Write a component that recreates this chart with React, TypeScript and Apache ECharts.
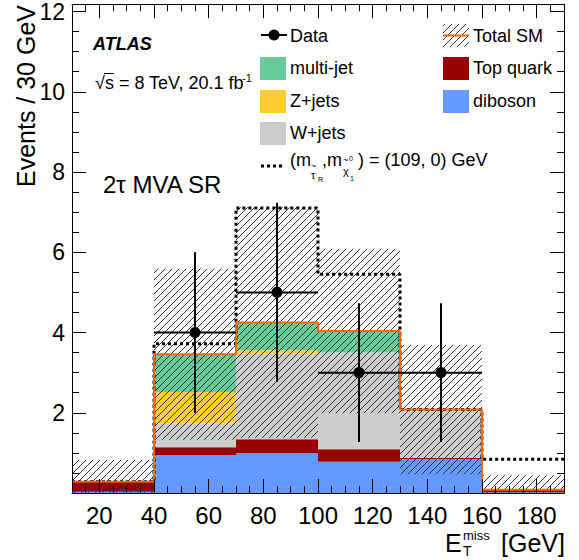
import React, { useEffect, useRef } from 'react';
import * as echarts from 'echarts';

// ---- data ----
const binLow = [10, 40, 70, 100, 130, 160];
const binWidth = 30;
const diboson = [0.03, 0.945, 0.99, 0.78, 0.85, 0.02];
const topQuark = [0.25, 0.195, 0.35, 0.31, 0.03, 0.06];
const wJets = [0, 0.59, 2.13, 2.41, 1.2, 0];
const zJets = [0, 0.79, 0.09, 0, 0, 0];
const multiJet = [0, 0.94, 0.69, 0.54, 0, 0];
const sysUnc = [0.54, 2.13, 2.87, 2.05, 1.61, 0.36];
const signal = [0.28, 3.72, 7.1, 5.45, 2.08, 0.84];
const dataX = [55, 85, 115, 145];
const dataY = [4, 5, 3, 3];
const dataErr = [2, 2.236, 1.732, 1.732];

const xLabelValues = [20, 40, 60, 80, 100, 120, 140, 160, 180];
const xMinorValues = Array.from({ length: 37 }, (_, i) => 10 + i * 5);
const yLabelValues = [2, 4, 6, 8, 10, 12];
const yMajorValues = [0, 2, 4, 6, 8, 10, 12];
const yMinorValues = Array.from({ length: 25 }, (_, i) => i * 0.5);

const FONT = "'Liberation Sans', Arial, Helvetica, sans-serif";

const samples = [
  { name: 'diboson', values: diboson, color: '#6699FF' },
  { name: 'Top quark', values: topQuark, color: '#990000' },
  { name: 'W+jets', values: wJets, color: '#CCCCCC' },
  { name: 'Z+jets', values: zJets, color: '#FFCC33' },
  { name: 'multi-jet', values: multiJet, color: '#66CC99' },
];

function txt(x: number, y: number, text: string, size: number, extra: any = {}) {
  return {
    type: 'text',
    x,
    y,
    z: 100,
    style: {
      text,
      fontSize: size,
      fontFamily: FONT,
      fill: '#000',
      align: extra.align || 'left',
      textAlign: extra.align || 'left',
      verticalAlign: 'middle',
      textVerticalAlign: 'middle',
      fontWeight: extra.fontWeight || 'normal',
      fontStyle: extra.fontStyle || 'normal',
    },
    ...(extra.rotation ? { rotation: extra.rotation } : {}),
  };
}

export default function App() {
  const ref = useRef<HTMLDivElement>(null);

  useEffect(() => {
    if (!ref.current) return;
    const chart = echarts.init(ref.current, undefined, { renderer: 'svg' });

    // hatch pattern
    const cv = document.createElement('canvas');
    cv.width = 7;
    cv.height = 7;
    const ctx = cv.getContext('2d')!;
    ctx.strokeStyle = '#333';
    ctx.lineWidth = 1;
    for (const k of [-7, 0, 7]) {
      ctx.beginPath();
      ctx.moveTo(k - 1, 8);
      ctx.lineTo(k + 8, -1);
      ctx.stroke();
    }
    const hatch: any = { image: cv, repeat: 'repeat', imageWidth: 7, imageHeight: 7 };

    // stacked totals
    const cum = binLow.map(() => 0);
    const stackSeries: any[] = samples.map((s, si) => {
      const rows = binLow.map((lo, i) => {
        const base = cum[i];
        cum[i] += s.values[i];
        return [lo, lo + binWidth, base, cum[i]];
      });
      return {
        type: 'custom',
        name: s.name,
        z: 2 + si * 0.01,
        data: rows,
        renderItem: (params: any, api: any) => {
          const lo = api.value(0), hi = api.value(1), b = api.value(2), t = api.value(3);
          if (t - b <= 0) return null;
          const p1 = api.coord([lo, t]);
          const p2 = api.coord([hi, b]);
          return {
            type: 'rect',
            shape: { x: p1[0], y: p1[1], width: p2[0] - p1[0], height: p2[1] - p1[1] },
            style: { fill: s.color },
          };
        },
      };
    });
    const total = cum.slice();

    const bandRows = binLow.map((lo, i) => [lo, lo + binWidth, Math.max(0, total[i] - sysUnc[i]), total[i] + sysUnc[i]]);
    const stepData = (vals: number[]) => {
      const d = binLow.map((lo, i) => [lo, vals[i]]);
      d.push([binLow[binLow.length - 1] + binWidth, vals[vals.length - 1]]);
      return d;
    };

    const axisCommon = {
      type: 'value',
      splitLine: { show: false },
      z: 10,
    };

    const xAx = (pos: string, showLine: boolean, ticks: number[], len: number, labels: boolean) => ({
      ...axisCommon,
      min: 10,
      max: 190,
      position: pos,
      axisLine: { show: showLine, onZero: false, lineStyle: { color: '#000', width: 1 } },
      axisTick: { show: true, inside: true, length: len, customValues: ticks, lineStyle: { color: '#000', width: 1 } },
      axisLabel: labels
        ? { show: true, customValues: xLabelValues, fontSize: 24, color: '#000', margin: 10, fontFamily: FONT }
        : { show: false },
    });
    const yAx = (pos: string, showLine: boolean, ticks: number[], len: number, labels: boolean) => ({
      ...axisCommon,
      min: 0,
      max: 12.18,
      position: pos,
      axisLine: { show: showLine, onZero: false, lineStyle: { color: '#000', width: 1 } },
      axisTick: { show: true, inside: true, length: len, customValues: ticks, lineStyle: { color: '#000', width: 1 } },
      axisLabel: labels
        ? { show: true, customValues: yLabelValues, fontSize: 23, color: '#000', margin: 7, fontFamily: FONT }
        : { show: false },
    });

    const option: any = {
      animation: false,
      backgroundColor: '#ffffff',
      grid: { left: 72, right: 15, top: 3, bottom: 67, containLabel: false },
      xAxis: [
        xAx('bottom', true, xLabelValues, 14, true),
        xAx('bottom', false, xMinorValues, 7, false),
        xAx('top', true, xLabelValues, 14, false),
        xAx('top', false, xMinorValues, 7, false),
      ],
      yAxis: [
        yAx('left', true, yMajorValues, 14, true),
        yAx('left', false, yMinorValues, 7, false),
        yAx('right', true, yMajorValues, 14, false),
        yAx('right', false, yMinorValues, 7, false),
      ],
      series: [
        ...stackSeries,
        {
          type: 'custom',
          name: 'Total SM uncertainty',
          z: 3,
          data: bandRows,
          renderItem: (params: any, api: any) => {
            const lo = api.value(0), hi = api.value(1), b = api.value(2), t = api.value(3);
            const p1 = api.coord([lo, t]);
            const p2 = api.coord([hi, b]);
            return {
              type: 'rect',
              shape: { x: p1[0], y: p1[1], width: p2[0] - p1[0], height: p2[1] - p1[1] },
              style: { fill: hatch },
            };
          },
        },
        {
          type: 'line',
          name: 'signal',
          z: 4,
          step: 'end',
          showSymbol: false,
          symbol: 'none',
          data: stepData(signal),
          lineStyle: { color: '#000', width: 3, type: [3, 3] },
        },
        {
          type: 'line',
          name: 'Total SM',
          z: 5,
          step: 'end',
          showSymbol: false,
          symbol: 'none',
          data: stepData(total),
          lineStyle: { color: '#FF6600', width: 2 },
        },
        {
          type: 'custom',
          name: 'Data',
          z: 6,
          data: dataX.map((x, i) => [x, dataY[i], dataErr[i]]),
          renderItem: (params: any, api: any) => {
            const x = api.value(0), y = api.value(1), e = api.value(2);
            const c = api.coord([x, y]);
            const l = api.coord([x - binWidth / 2, y]);
            const r = api.coord([x + binWidth / 2, y]);
            const t = api.coord([x, y + e]);
            const b = api.coord([x, y - e]);
            return {
              type: 'group',
              children: [
                { type: 'line', shape: { x1: l[0], y1: l[1], x2: r[0], y2: r[1] }, style: { stroke: '#000', lineWidth: 2 } },
                { type: 'line', shape: { x1: t[0], y1: t[1], x2: b[0], y2: b[1] }, style: { stroke: '#000', lineWidth: 2 } },
                { type: 'circle', shape: { cx: c[0], cy: c[1], r: 5.5 }, style: { fill: '#000' } },
              ],
            };
          },
        },
      ],
      graphic: {
        elements: [
          // y axis title
          txt(26, 5, 'Events / 30 GeV', 25, { align: 'right', rotation: Math.PI / 2 }),
          // x axis title
          txt(445, 543, 'E', 25),
          txt(463, 535, 'miss', 13),
          txt(463, 551, 'T', 14),
          txt(565, 543, '[GeV]', 25, { align: 'right' }),
          // ATLAS labels
          txt(93, 44, 'ATLAS', 18, { fontWeight: 'bold', fontStyle: 'italic' }),
          txt(95, 83, '√s = 8 TeV, 20.1 fb', 18),
          { type: 'line', z: 100, shape: { x1: 104, y1: 73.5, x2: 114, y2: 73.5 }, style: { stroke: '#000', lineWidth: 1 } },
          txt(242, 78, '-1', 11),
          txt(103, 184, '2τ MVA SR', 24),
          // legend: Data
          { type: 'line', z: 100, shape: { x1: 261, y1: 35, x2: 287, y2: 35 }, style: { stroke: '#000', lineWidth: 2 } },
          { type: 'circle', z: 100, shape: { cx: 274, cy: 35, r: 5.5 }, style: { fill: '#000' } },
          txt(290, 36, 'Data', 18),
          // multi-jet, Z+jets, W+jets
          { type: 'rect', z: 100, shape: { x: 260, y: 57, width: 26, height: 23 }, style: { fill: '#66CC99' } },
          txt(290, 68, 'multi-jet', 18),
          { type: 'rect', z: 100, shape: { x: 260, y: 90, width: 26, height: 23 }, style: { fill: '#FFCC33' } },
          txt(290, 101, 'Z+jets', 18),
          { type: 'rect', z: 100, shape: { x: 260, y: 122, width: 26, height: 23 }, style: { fill: '#CCCCCC' } },
          txt(290, 133, 'W+jets', 18),
          // signal
          { type: 'line', z: 100, shape: { x1: 261, y1: 166, x2: 284, y2: 166 }, style: { stroke: '#000', lineWidth: 3, lineDash: [3, 3] } },
          txt(290, 160, '(m', 18),
          txt(311, 166, '~', 9),
          txt(311, 175, 'τ', 11),
          txt(318, 179, 'R', 7),
          txt(322, 160, ',m', 18),
          txt(343, 160, '~', 9),
          txt(349, 158, '0', 7),
          txt(343, 171, 'χ', 11),
          txt(350, 178, '1', 7),
          txt(358, 160, ') = (109, 0) GeV', 18),
          // right column
          { type: 'rect', z: 100, shape: { x: 443, y: 24, width: 26, height: 23 }, style: { fill: hatch } },
          { type: 'line', z: 100, shape: { x1: 443, y1: 35.5, x2: 469, y2: 35.5 }, style: { stroke: '#FF6600', lineWidth: 2 } },
          txt(473, 36, 'Total SM', 18),
          { type: 'rect', z: 100, shape: { x: 443, y: 57, width: 26, height: 23 }, style: { fill: '#990000' } },
          txt(473, 68, 'Top quark', 18),
          { type: 'rect', z: 100, shape: { x: 443, y: 90, width: 26, height: 23 }, style: { fill: '#6699FF' } },
          txt(473, 101, 'diboson', 18),
        ],
      },
    };

    chart.setOption(option);
    return () => chart.dispose();
  }, []);

  return (
    <div
      ref={ref}
      style={{ position: 'fixed', left: 0, top: 0, width: 579, height: 560, background: '#fff' }}
    />
  );
}
